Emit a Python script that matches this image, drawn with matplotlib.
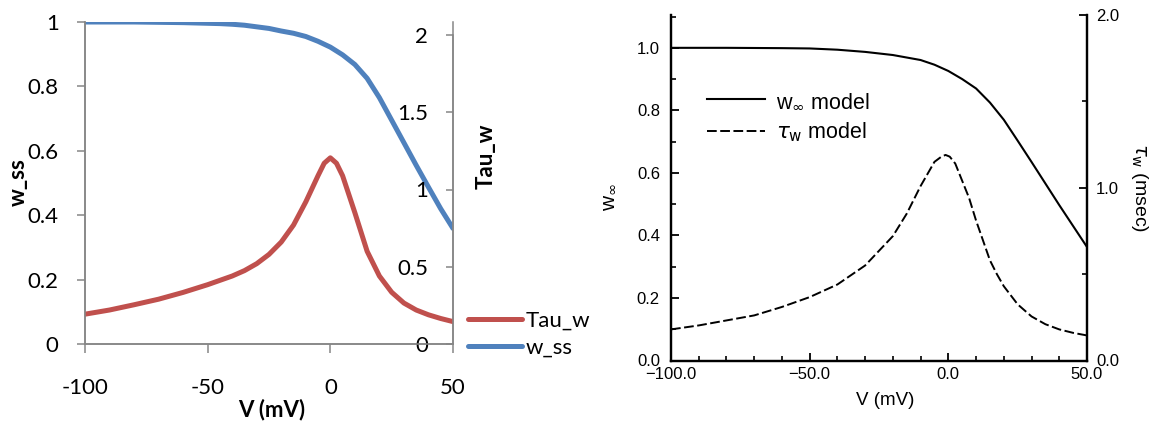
import matplotlib
matplotlib.use("Agg")
import matplotlib.pyplot as plt
from matplotlib.ticker import MultipleLocator, FuncFormatter

# left panel (Excel style): w_ss on left axis, Tau_w on secondary axis
v_left = [-100, -90, -80, -70, -60, -50, -40, -35, -30, -25, -20, -15, -10, -5, -2.5, 0, 2.5, 5, 10, 15, 20, 25,
          30, 35, 40, 45, 50]
tau_left = [0.193, 0.22, 0.254, 0.29, 0.334, 0.384, 0.44, 0.475, 0.52, 0.58, 0.66, 0.77, 0.92, 1.09, 1.17, 1.205,
            1.17, 1.089, 0.85, 0.60, 0.44, 0.335, 0.265, 0.22, 0.189, 0.165, 0.145]
wss_v = [-100, -90, -80, -70, -60, -50, -45, -40, -35, -30, -25, -20, -15, -10, -5, 0, 5, 10, 15, 20, 25, 30, 35,
         40, 45, 50]
wss_left = [1.0, 1.0, 1.0, 0.999, 0.998, 0.996, 0.995, 0.993, 0.99, 0.985, 0.98, 0.972, 0.965, 0.955, 0.94,
            0.922, 0.898, 0.868, 0.825, 0.765, 0.695, 0.625, 0.555, 0.487, 0.42, 0.359]
xtick_left = [-100, -50, 0, 50]

# right panel (scanned figure): w_inf model solid, tau_w model dashed
v_tau_right = [-100, -90, -80, -70, -60, -50, -40, -30, -20, -15, -10, -5, -2.5, -1, 0.5, 2.5, 5, 7.5, 10, 12.5,
               15, 17.5, 20, 25, 30, 35, 40, 45, 50]
tau_right = [0.18, 0.203, 0.232, 0.261, 0.31, 0.367, 0.44, 0.55, 0.72, 0.85, 1.01, 1.15, 1.18, 1.19, 1.18, 1.14,
             1.04, 0.94, 0.81, 0.695, 0.58, 0.50, 0.43, 0.325, 0.255, 0.21, 0.18, 0.16, 0.145]
v_winf_right = [-100, -80, -60, -50, -40, -30, -20, -10, -5, 0, 5, 10, 15, 20, 25, 30, 35, 40, 45, 50]
winf_right = [1.0, 1.0, 0.999, 0.998, 0.994, 0.987, 0.977, 0.961, 0.946, 0.926, 0.90, 0.87, 0.825, 0.77, 0.703,
              0.635, 0.566, 0.497, 0.43, 0.363]

fig = plt.figure(figsize=(11.58, 4.21), dpi=100)

# ---------------- left panel ----------------
gray = "#868686"
ax = fig.add_axes([85 / 1158, 1 - 344 / 421, 368 / 1158, 322 / 421])
ax2 = ax.twinx()
excel_font = "Lato"

l_tau, = ax2.plot(v_left, tau_left, color="#C0504D", lw=3.6, label="Tau_w", solid_capstyle="round",
                  solid_joinstyle="round")
l_wss, = ax.plot(wss_v, wss_left, color="#4F81BD", lw=3.6, label="w_ss", solid_capstyle="round",
                 solid_joinstyle="round")

ax.set_xlim(-100, 50)
ax.set_ylim(0, 1)
ax2.set_ylim(0, 2 * 322 / 309)
ax.set_xticks(xtick_left)
ax.set_xticklabels([str(v) for v in xtick_left])
ax.set_yticks([0, 0.2, 0.4, 0.6, 0.8, 1])
ax.set_yticklabels(["0", "0.2", "0.4", "0.6", "0.8", "1"])
ax2.set_yticks([0, 0.5, 1, 1.5, 2])
ax2.set_yticklabels(["0", "0.5", "1", "1.5", "2"])

for a in (ax, ax2):
    a.spines["top"].set_visible(False)
    for s in ("left", "right", "bottom"):
        a.spines[s].set_color(gray)
        a.spines[s].set_linewidth(1.1)
ax2.spines["right"].set_bounds(0, 2)

ax.tick_params(axis="x", direction="out", length=6.5, width=1.1, color=gray, pad=18,
               labelsize=16, labelfontfamily=excel_font)
ax.tick_params(axis="y", direction="out", length=6, width=1.1, color=gray, pad=13,
               labelsize=16, labelfontfamily=excel_font)
ax2.tick_params(axis="y", direction="in", length=5, width=1.1, color=gray, pad=-18,
                labelsize=16, labelfontfamily=excel_font)
for t in ax2.get_yticklabels():
    t.set_horizontalalignment("right")

ax.set_xlabel("V (mV)", fontsize=16, fontweight="bold", family=excel_font)
ax.xaxis.set_label_coords(0.508, -0.17)
ax.set_ylabel("w_ss", fontsize=16, fontweight="bold", family=excel_font)
ax.yaxis.set_label_coords(-0.181, 0.503)
ax.yaxis.label.set_va("center")
ax2.set_ylabel("Tau_w", fontsize=16, fontweight="bold", family=excel_font)
ax2.yaxis.set_label_coords(1.09, 0.584)
ax2.yaxis.label.set_va("center")
ax2.yaxis.label.set_rotation(90)

fig.legend(handles=[l_tau, l_wss], loc="center left", bbox_to_anchor=(468 / 1158, 1 - 334.5 / 421),
           frameon=False, borderpad=0, borderaxespad=0, handlelength=2.45, handletextpad=0.15,
           labelspacing=0.3, prop={"family": excel_font, "size": 16})

# ---------------- right panel ----------------
rfont = "Liberation Sans"
bx = fig.add_axes([671 / 1158, 1 - 360.5 / 421, 416 / 1158, 345.5 / 421])
bx2 = bx.twinx()

bx.plot(v_winf_right, winf_right, color="black", lw=1.5, label=r"w$_\infty$ model")
bx2.plot(v_tau_right, tau_right, color="black", lw=1.4, dashes=(5, 1.8), label=r"$\tau_{\rm w}$ model")

bx.set_xlim(-100, 50)
bx.set_ylim(0, 1.105)
bx2.set_ylim(0, 2.0)

fmt = FuncFormatter(lambda x, pos: f"{x:.1f}".replace("-", "\u2212"))
bx.xaxis.set_major_locator(MultipleLocator(50))
bx.xaxis.set_minor_locator(MultipleLocator(10))
bx.xaxis.set_major_formatter(fmt)
bx.yaxis.set_major_locator(MultipleLocator(0.2))
bx.yaxis.set_minor_locator(MultipleLocator(0.1))
bx.yaxis.set_major_formatter(fmt)
bx2.yaxis.set_major_locator(MultipleLocator(1.0))
bx2.yaxis.set_minor_locator(MultipleLocator(0.5))
bx2.yaxis.set_major_formatter(fmt)
bx.set_yticks([0, 0.2, 0.4, 0.6, 0.8, 1.0])

bx.spines["top"].set_visible(False)
bx2.spines["top"].set_visible(False)
for a in (bx, bx2):
    for s in ("left", "right", "bottom"):
        a.spines[s].set_linewidth(1.6)

bx.tick_params(which="major", direction="in", length=6, width=1.3, labelsize=12, labelfontfamily=rfont)
bx.tick_params(which="minor", direction="in", length=3.5, width=1.2)
bx.tick_params(axis="x", pad=5)
bx.tick_params(axis="y", pad=8)
bx2.tick_params(which="major", direction="in", length=6, width=1.3, labelsize=12, pad=6.5,
                labelfontfamily=rfont)
bx2.tick_params(which="minor", direction="in", length=3.5, width=1.2)

bx.set_xlabel("V (mV)", fontsize=13.5, family=rfont)
bx.xaxis.set_label_coords(0.514, -0.117)
bx.xaxis.label.set_va("center")
bx.set_ylabel(r"w$_\infty$", fontsize=15, family=rfont)
bx.yaxis.set_label_coords(-0.151, 0.473)
bx.yaxis.label.set_va("center")
bx2.set_ylabel(r"$\tau_{\rm w}$ (msec)", fontsize=14, family=rfont, rotation=270)
bx2.yaxis.set_label_coords(1.127, 0.499)
bx2.yaxis.label.set_va("center")

h1, lab1 = bx.get_legend_handles_labels()
h2, lab2 = bx2.get_legend_handles_labels()
fig.legend(h1 + h2, lab1 + lab2, loc="center left", bbox_to_anchor=(707 / 1158, 1 - 117.5 / 421),
           frameon=False, borderpad=0, borderaxespad=0, handlelength=2.7, handletextpad=0.5,
           labelspacing=0.4, prop={"family": rfont, "size": 15.5})

fig.savefig("out.png", dpi=100)
